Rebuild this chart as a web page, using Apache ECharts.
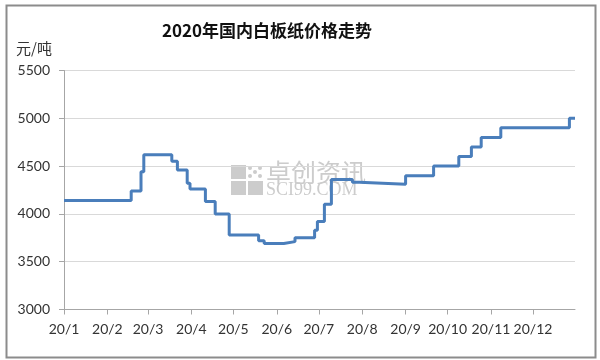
<!DOCTYPE html>
<html>
<head>
<meta charset="utf-8">
<script src="https://cdn.jsdelivr.net/npm/echarts@6/dist/echarts.min.js"></script>
<style>
html,body{margin:0;padding:0;background:#fff;}
#c{width:600px;height:360px;}
</style>
</head>
<body>
<div id="c"></div>
<script>
// Price change dates (value holds from this date until the next change)
const changeDates = [
  '2020-01-01','2020-02-18','2020-02-25','2020-02-27','2020-03-18','2020-03-22',
  '2020-03-29','2020-03-31','2020-04-11','2020-04-18','2020-04-28','2020-05-19',
  '2020-05-23','2020-06-06','2020-06-14','2020-06-28','2020-06-30','2020-07-05',
  '2020-07-10','2020-07-25','2020-07-30','2020-09-01','2020-09-21','2020-10-09',
  '2020-10-18','2020-10-25','2020-11-08','2020-12-27','2020-12-31'
];
const prices = [
  4140,4240,4440,4620,4550,4460,
  4320,4260,4130,4000,3780,3720,
  3690,3710,3750,3830,3920,4100,
  4360,4330,4310,4400,4500,4600,
  4700,4800,4900,5000,5000
];
const monthTicks = [1,2,3,4,5,6,7,8,9,10,11,12];
const yTicks = [3000,3500,4000,4500,5000,5500];
const titleText = '2020年国内白板纸价格走势';
const unitText = '元/吨';

function toTs(s) { const p = s.split('-').map(Number); return +new Date(p[0], p[1] - 1, p[2]); }

const chart = echarts.init(document.getElementById('c'));
const tickValues = monthTicks.map(m => +new Date(2020, m - 1, 1));
const seriesData = changeDates.map((d, i) => [toTs(d), prices[i]]);

chart.setOption({
  animation: false,
  backgroundColor: '#ffffff',
  title: {
    text: titleText,
    left: 157, top: 17,
    textStyle: { fontFamily: 'Noto Sans CJK SC', fontSize: 17, fontWeight: 'bold', color: '#111' }
  },
  grid: { left: 64, right: 25, top: 70.5, bottom: 50.5, containLabel: false },
  xAxis: {
    type: 'value',
    min: toTs('2020-01-01'),
    max: toTs('2020-12-31'),
    axisLine: { show: true, lineStyle: { color: '#a6a6a6', width: 1 } },
    axisTick: { show: true, length: 5, inside: false, customValues: tickValues, lineStyle: { color: '#a6a6a6' } },
    axisLabel: {
      customValues: tickValues,
      margin: 13,
      fontFamily: 'Lato', fontSize: 14, color: '#333',
      formatter: function (v) { return '20/' + (new Date(v).getMonth() + 1); }
    },
    splitLine: { show: false }
  },
  yAxis: {
    type: 'value',
    min: yTicks[0], max: yTicks[yTicks.length - 1], interval: 500,
    axisLine: { show: true, lineStyle: { color: '#a6a6a6', width: 1 } },
    axisTick: { show: true, length: 5, lineStyle: { color: '#a6a6a6' } },
    axisLabel: { margin: 14, fontFamily: 'Lato', fontSize: 14, color: '#333',
      formatter: function (v) { return String(v); } },
    splitLine: { show: true, lineStyle: { color: '#d9d9d9', width: 1 } }
  },
  series: [{
    type: 'line',
    step: 'end',
    data: seriesData,
    symbol: 'none',
    lineStyle: { color: '#4a7ebb', width: 3 },
    itemStyle: { color: '#4a7ebb' }
  }],
  graphic: [
    { type: 'rect', left: 4, top: 3, z: 100, silent: true,
      shape: { width: 589, height: 352 }, style: { fill: 'none', stroke: '#8c8c8c', lineWidth: 2 } },
    { type: 'text', left: 16, top: 41, style: { text: unitText, font: '15px "Noto Sans CJK SC"', fill: '#333' } },
    // watermark
    { type: 'group', left: 231, top: 165, z: -1, children: [
      { type: 'rect', shape: { x: 0, y: 0, width: 15, height: 14 }, style: { fill: '#cccccc' } },
      { type: 'rect', shape: { x: 0, y: 16, width: 15, height: 14 }, style: { fill: '#cccccc' } },
      { type: 'rect', shape: { x: 17, y: 16, width: 15, height: 14 }, style: { fill: '#cccccc' } },
      { type: 'circle', shape: { cx: 19, cy: 3, r: 2 }, style: { fill: '#cccccc' } },
      { type: 'circle', shape: { cx: 29, cy: 3, r: 2 }, style: { fill: '#cccccc' } },
      { type: 'circle', shape: { cx: 24, cy: 7, r: 2 }, style: { fill: '#cccccc' } },
      { type: 'circle', shape: { cx: 19, cy: 11, r: 2 }, style: { fill: '#cccccc' } },
      { type: 'circle', shape: { cx: 29, cy: 11, r: 2 }, style: { fill: '#cccccc' } }
    ]},
    { type: 'text', left: 266, top: 160, z: -1, style: { text: '卓创资讯', font: '25px "Noto Sans CJK SC"', fill: '#cccccc' } },
    { type: 'text', left: 266, top: 181, z: -1, style: { text: 'SCI99.COM', font: '18px "Liberation Serif"', fill: '#cccccc' } }
  ]
});
</script>
</body>
</html>
